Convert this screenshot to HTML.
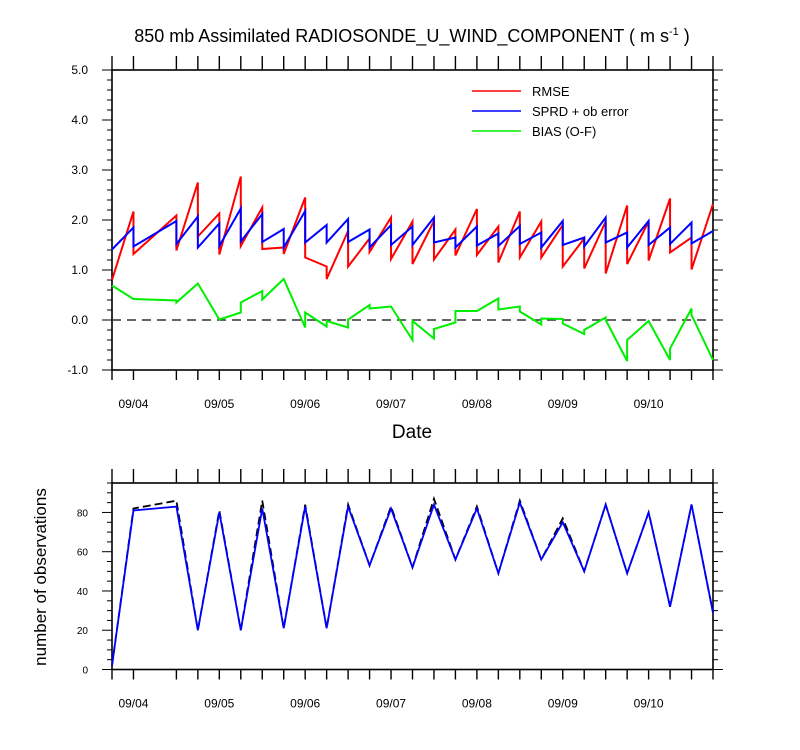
<!DOCTYPE html>
<html><head><meta charset="utf-8"><style>
body{margin:0;background:#fff;}
svg{display:block;font-family:"Liberation Sans",Arial,sans-serif;}
</style></head><body>
<svg id="chart" width="800" height="750" viewBox="0 0 800 750" xmlns="http://www.w3.org/2000/svg">
<text x="412" y="42" text-anchor="middle" font-size="18">850 mb Assimilated RADIOSONDE_U_WIND_COMPONENT ( m s<tspan font-size="11" dy="-7">-1</tspan><tspan dy="7"> )</tspan></text>
<g id="topPanel"></g>
<g id="botPanel"></g>
<text x="412" y="438" text-anchor="middle" font-size="19">Date</text>
<text transform="translate(46,577) rotate(-90)" text-anchor="middle" font-size="17">number of observations</text>
<g>
<line x1="472" y1="91" x2="521" y2="91" stroke="#f00" stroke-width="1.5"/>
<text x="532" y="96" font-size="13">RMSE</text>
<line x1="472" y1="111" x2="521" y2="111" stroke="#00f" stroke-width="1.5"/>
<text x="532" y="116" font-size="13">SPRD + ob error</text>
<line x1="472" y1="131" x2="521" y2="131" stroke="#0e0" stroke-width="1.5"/>
<text x="532" y="136" font-size="13">BIAS (O-F)</text>
</g>
</svg>
<script>
// time index (6-hourly steps from 09/03 18Z); index 2 missing
const times = [0,1,3,4,5,6,7,8,9,10,11,12,13,14,15,16,17,18,19,20,21,22,23,24,25,26,27,28];
const rmseArr = [0.8,2.17,2.09,2.75,2.13,2.87,2.25,1.45,2.45,1.07,1.78,1.63,2.05,1.97,1.98,1.81,2.22,1.87,2.17,1.97,1.90,1.63,1.97,2.29,1.97,2.43,1.65,2.32];
const rmseDep = [0.8,1.32,1.39,1.67,1.31,1.48,1.42,1.32,1.25,0.82,1.07,1.36,1.22,1.12,1.21,1.29,1.30,1.15,1.25,1.25,1.07,1.03,0.93,1.12,1.19,1.35,1.01,2.32];
const sprdArr = [1.41,1.85,1.98,2.07,1.93,2.23,2.12,1.82,2.18,1.90,2.02,1.81,1.90,1.87,2.05,1.65,1.87,1.73,1.88,1.75,1.98,1.65,2.05,1.75,1.98,1.85,1.95,1.78];
const sprdDep = [1.41,1.47,1.52,1.45,1.48,1.57,1.56,1.45,1.55,1.55,1.56,1.45,1.50,1.50,1.55,1.45,1.49,1.48,1.52,1.45,1.50,1.47,1.55,1.45,1.50,1.52,1.53,1.78];
const biasArr = [0.69,0.42,0.39,0.73,0.01,0.15,0.58,0.82,-0.15,-0.13,-0.15,0.30,0.27,-0.40,-0.37,-0.05,0.18,0.43,0.27,-0.09,0.02,-0.28,0.05,-0.82,-0.02,-0.80,0.23,-0.80];
const biasDep = [0.69,0.42,0.35,0.73,0.01,0.35,0.41,0.82,0.15,-0.02,0.01,0.23,0.27,-0.02,-0.18,0.18,0.18,0.21,0.17,0.03,-0.07,-0.20,0.00,-0.40,-0.02,-0.57,0.10,-0.80];
const obsUsed = [2,81,83,20,80,20,82,21,83,21,83,53,82,52,84,56,82,49,85,56,75,50,84,49,80,32,84,29];
const obsTotal = [2,82,86,20,81,20,86,21,84,21,84,53,83,52,87,56,83,49,86,56,77,50,84,49,80,32,84,29];
const dateLabels = ["09/04","09/05","09/06","09/07","09/08","09/09","09/10"];
const dateLabelIdx = [1,5,9,13,17,21,25];
const topTicks = [-1,0,1,2,3,4,5];
const botTicks = [0,20,40,60,80];

const NS="http://www.w3.org/2000/svg";
const X0=112,X1=713,TMAX=28;
const xs=t=>X0+(X1-X0)*t/TMAX;
const T_Y0=70,T_Y1=370,TMIN_V=-1,TMAX_V=5;
const ty=v=>T_Y1-(v-TMIN_V)/(TMAX_V-TMIN_V)*(T_Y1-T_Y0);
const B_Y0=483,B_Y1=669.5,BMAX=95;
const by=v=>B_Y1-v/BMAX*(B_Y1-B_Y0);
function mk(tag,attrs,parent){const e=document.createElementNS(NS,tag);for(const k in attrs)e.setAttribute(k,attrs[k]);parent.appendChild(e);return e;}
const topG=document.getElementById('topPanel'),botG=document.getElementById('botPanel');

function frame(g,yTop,yBot,ticksMaj,minorStep,minV,maxV,yf,fmt,fs){
  const r=mk('rect',{x:X0,y:yTop,width:X1-X0,height:yBot-yTop,fill:'none',stroke:'#000','stroke-width':1.6},g);
  
  
  for(const t of times){
    const a=mk('line',{x1:xs(t),y1:yBot,x2:xs(t),y2:yBot+10,stroke:'#000','stroke-width':1.4},g);
    
    
    const b=mk('line',{x1:xs(t),y1:yTop,x2:xs(t),y2:yTop-14,stroke:'#000','stroke-width':1.4},g);
    
    
  }
  for(let v=minV;v<=maxV+1e-6;v+=minorStep){
    const maj=ticksMaj.some(m=>Math.abs(m-v)<1e-6);
    const len=maj?10:5;
    const l=mk('line',{x1:X0,y1:yf(v),x2:X0-len,y2:yf(v),stroke:'#000','stroke-width':1},g);
    
    
    const r2=mk('line',{x1:X1,y1:yf(v),x2:X1+len,y2:yf(v),stroke:'#000','stroke-width':1},g);
    
    
  }
  for(const m of ticksMaj){
    const tx=mk('text',{x:X0-24,y:yf(m)+4,'text-anchor':'end','font-size':fs},g);
    tx.textContent=fmt(m);
    
    
  }
  dateLabels.forEach((d,i)=>{
    const tx=mk('text',{x:xs(dateLabelIdx[i]),y:yBot+38,'text-anchor':'middle','font-size':12},g);
    tx.textContent=d;
    
    
  });
}
frame(topG,T_Y0,T_Y1,topTicks,0.2,-1,5,ty,v=>v.toFixed(1),12);
frame(botG,B_Y0,B_Y1,botTicks,5,0,95,by,v=>String(v),10);

const zl=mk('line',{x1:X0,y1:ty(0),x2:X1,y2:ty(0),stroke:'#333','stroke-width':1.6,'stroke-dasharray':'9,6'},topG);



function saw(arr,dep,color,name){
  let pts=[];
  times.forEach((t,i)=>{pts.push(xs(t)+','+ty(arr[i]));pts.push(xs(t)+','+ty(dep[i]));});
  const p=mk('polyline',{points:pts.join(' '),fill:'none',stroke:color,'stroke-width':2},topG);
  
  
}
saw(rmseArr,rmseDep,'#f00','rmse-line');
saw(sprdArr,sprdDep,'#00f','sprd-line');
saw(biasArr,biasDep,'#0e0','bias-line');

const tp=mk('polyline',{points:times.map((t,i)=>xs(t)+','+by(obsTotal[i])).join(' '),fill:'none',stroke:'#000','stroke-width':1.8,'stroke-dasharray':'8,4'},botG);


const up=mk('polyline',{points:times.map((t,i)=>xs(t)+','+by(obsUsed[i])).join(' '),fill:'none',stroke:'#00f','stroke-width':1.8},botG);


</script>
</body></html>
